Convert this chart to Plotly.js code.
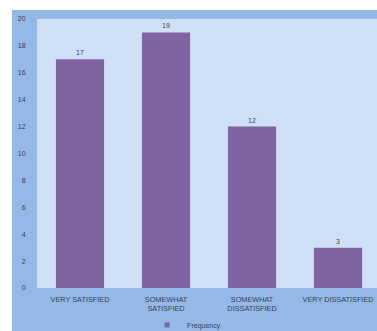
<!DOCTYPE html>
<html>
<head>
<meta charset="utf-8">
<script src="https://cdn.plot.ly/plotly-3.0.1.min.js"></script>
<style>html,body{margin:0;padding:0;background:#fff;}#chart{width:377px;height:331px;}</style>
</head>
<body>
<div id="chart"></div>
<script>
const categories = ["VERY SATISFIED", "SOMEWHAT<br>SATISFIED", "SOMEWHAT<br>DISSATISFIED", "VERY DISSATISFIED"];
const frequency = [17, 19, 12, 3];
const seriesName = "Frequency";
const yTicks = [0, 2, 4, 6, 8, 10, 12, 14, 16, 18, 20];
const barColor = "#8064a2";

const barTrace = {
  type: "bar",
  x: categories,
  y: frequency,
  name: seriesName,
  marker: {color: barColor},
  text: frequency.map(String),
  textposition: "outside",
  textfont: {size: 7, color: "#3a4450", family: "Liberation Sans, Arial, sans-serif"},
  cliponaxis: false,
  showlegend: false
};

// legend entry with a small square swatch, same series
const legendTrace = {
  type: "scatter",
  mode: "markers",
  x: [null],
  y: [null],
  name: seriesName,
  marker: {symbol: "square", size: 5, color: barColor},
  showlegend: true,
  hoverinfo: "skip"
};

const layout = {
  width: 377,
  height: 331,
  margin: {l: 37, r: 0, t: 19, b: 43, pad: 0, autoexpand: false},
  paper_bgcolor: "#95b9e6",
  plot_bgcolor: "#cfe0f6",
  bargap: 0.44,
  font: {family: "Liberation Sans, Arial, sans-serif", size: 7, color: "#344050"},
  xaxis: {
    range: [-0.5, 3.453],
    showgrid: false,
    zeroline: false,
    showline: false,
    ticks: "outside",
    ticklen: 4,
    tickcolor: "rgba(0,0,0,0)",
    tickfont: {size: 7.3, color: "#344050"},
    fixedrange: true,
    automargin: false
  },
  yaxis: {
    range: [0, 20],
    tickvals: yTicks,
    ticktext: yTicks.map(String),
    showgrid: false,
    zeroline: false,
    showline: false,
    ticks: "outside",
    ticklen: 9,
    tickcolor: "rgba(0,0,0,0)",
    tickfont: {size: 7, color: "#344050"},
    fixedrange: true,
    automargin: false
  },
  legend: {
    orientation: "h",
    x: 0.44,
    xanchor: "center",
    y: -0.138,
    yanchor: "middle",
    font: {size: 7, color: "#344050"},
    bgcolor: "rgba(0,0,0,0)",
    itemwidth: 30,
    itemsizing: "trace"
  },
  shapes: [
    {
      type: "rect", xref: "paper", yref: "paper",
      x0: -40 / 340, x1: -25 / 340, y0: -1, y1: 1.2,
      fillcolor: "#ffffff", line: {width: 0}, layer: "above"
    },
    {
      type: "rect", xref: "paper", yref: "paper",
      x0: -40 / 340, x1: 1.05, y0: 1 + 9 / 269, y1: 1.2,
      fillcolor: "#ffffff", line: {width: 0}, layer: "above"
    }
  ]
};

Plotly.newPlot("chart", [barTrace, legendTrace], layout, {displayModeBar: false, staticPlot: true});
</script>
</body>
</html>
